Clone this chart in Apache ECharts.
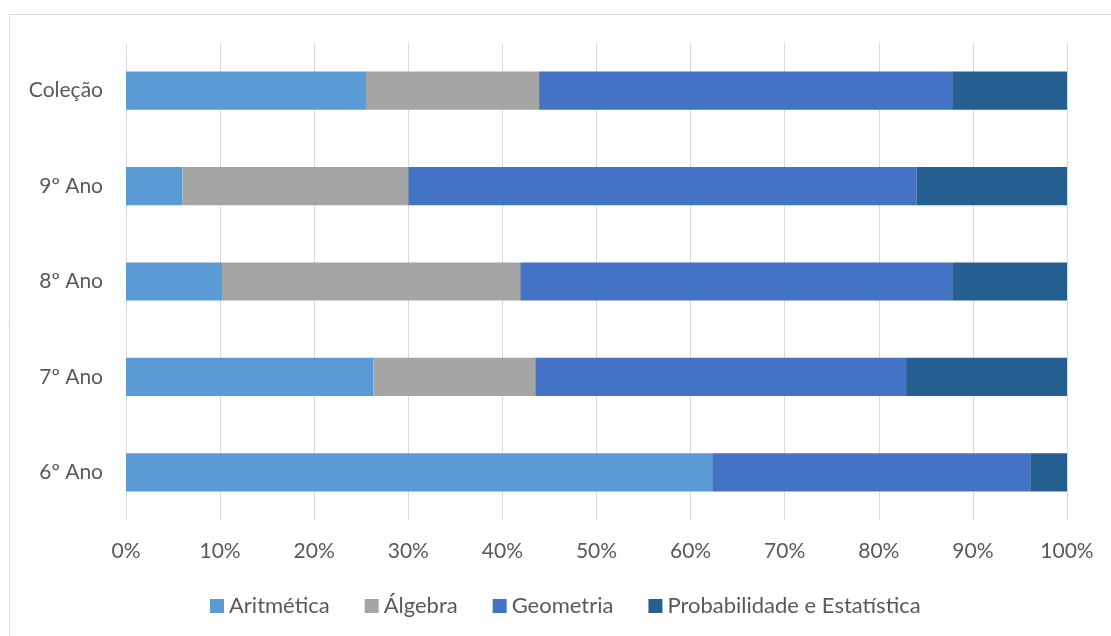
<!DOCTYPE html>
<html>
<head>
<meta charset="utf-8">
<script src="https://cdn.jsdelivr.net/npm/echarts@6/dist/echarts.min.js"></script>
<style>html,body{margin:0;padding:0;background:#fff;}#c{width:1111px;height:636px;}</style>
</head>
<body>
<div id="c"></div>
<script>
const categories = ['6º Ano', '7º Ano', '8º Ano', '9º Ano', 'Coleção'];
const aritmetica = [62.3, 26.3, 10.2, 6.0, 25.5];
const algebra = [0, 17.2, 31.7, 24.0, 18.4];
const geometria = [33.8, 39.4, 45.9, 54.0, 43.9];
const probabilidade = [3.9, 17.1, 12.2, 16.0, 12.2];
const seriesNames = ['Aritmética', 'Álgebra', 'Geometria', 'Probabilidade e Estatística'];
const xTicks = [0, 10, 20, 30, 40, 50, 60, 70, 80, 90, 100];

const colors = ['#5B9BD5', '#A5A5A5', '#4472C4', '#255E91'];
const font = 'Lato, "Open Sans", sans-serif';
const chart = echarts.init(document.getElementById('c'), null, {renderer: 'canvas'});
const dataSets = [aritmetica, algebra, geometria, probabilidade];
chart.setOption({
  animation: false,
  color: colors,
  textStyle: {fontFamily: font},
  graphic: [{
    type: 'rect', shape: {x: 9.5, y: 14.5, width: 1200, height: 700},
    style: {fill: 'none', stroke: '#D9D9D9', lineWidth: 1}, silent: true
  }],
  grid: {left: 126, right: 44, top: 43, bottom: 116},
  legend: {
    left: 205, top: 590, itemWidth: 14, itemHeight: 14, itemGap: 35,
    icon: 'rect',
    textStyle: {color: '#595959', fontSize: 22, fontFamily: font},
    data: seriesNames
  },
  xAxis: {
    type: 'value', min: 0, max: 100, interval: 10,
    axisLine: {show: false}, axisTick: {show: false},
    splitLine: {lineStyle: {color: '#D9D9D9', width: 1}},
    axisLabel: {
      color: '#595959', fontSize: 21, margin: 21, fontFamily: font,
      formatter: v => xTicks.includes(v) ? v + '%' : ''
    }
  },
  yAxis: {
    type: 'category', data: categories,
    axisLine: {show: false}, axisTick: {show: false},
    axisLabel: {color: '#595959', fontSize: 21, margin: 23, fontFamily: font}
  },
  series: seriesNames.map((n, i) => ({
    name: n, type: 'bar', stack: 'total', barWidth: '40%',
    data: dataSets[i],
    itemStyle: {color: colors[i]}
  }))
});
</script>
</body>
</html>
